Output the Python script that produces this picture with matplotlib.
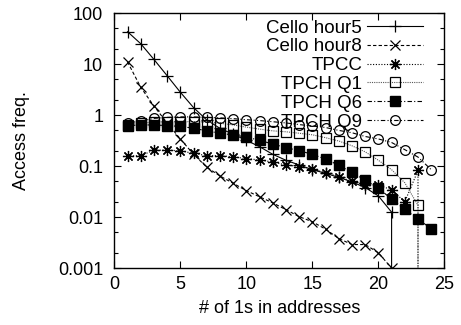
import matplotlib
matplotlib.use("Agg")
import matplotlib.pyplot as plt
from matplotlib.ticker import LogLocator, FuncFormatter, NullFormatter

plt.rcParams['font.family'] = ['Liberation Sans', 'DejaVu Sans']

# access frequency per number of 1s in the address (x = 1, 2, ...)
cello5 = [43, 25, 12.3, 5.9, 2.8, 1.4, 0.8, 0.55, 0.42, 0.32, 0.24, 0.17, 0.13,
          0.105, 0.085, 0.072, 0.06, 0.049, 0.038, 0.026, 0.0125]
cello8 = [11, 3.5, 1.5, 0.7, 0.34, 0.17, 0.095, 0.064, 0.046, 0.033, 0.025, 0.019,
          0.014, 0.0102, 0.0081, 0.0058, 0.0038, 0.0029, 0.0029, 0.002, 0.001]
tpcc = [0.158, 0.16, 0.205, 0.205, 0.2, 0.177, 0.16, 0.16, 0.152, 0.14, 0.132, 0.12,
        0.105, 0.098, 0.087, 0.074, 0.062, 0.05, 0.043, 0.043, 0.034, 0.02, 0.082]
q1 = [0.64, 0.69, 0.73, 0.74, 0.74, 0.74, 0.73, 0.69, 0.64, 0.58, 0.53, 0.49, 0.47,
      0.44, 0.41, 0.36, 0.31, 0.25, 0.19, 0.13, 0.085, 0.047, 0.017]
q6 = [0.61, 0.64, 0.64, 0.62, 0.6, 0.55, 0.49, 0.44, 0.41, 0.37, 0.32, 0.27, 0.23,
      0.2, 0.17, 0.137, 0.104, 0.075, 0.053, 0.037, 0.0225, 0.0142, 0.0092, 0.0059]
q9 = [0.70, 0.76, 0.86, 0.90, 0.92, 0.92, 0.90, 0.88, 0.85, 0.81, 0.78, 0.74, 0.70,
      0.65, 0.61, 0.57, 0.50, 0.45, 0.38, 0.34, 0.29, 0.21, 0.15, 0.085]

# series that fall to zero right after their last point (drawn as a drop to the axis)
drops = {"Cello hour5": True, "Cello hour8": False, "TPCC": True,
         "TPCH Q1": True, "TPCH Q6": False, "TPCH Q9": False}

series = [
    ("Cello hour5", cello5, dict(ls='-', marker='+', ms=9, mew=0.9)),
    ("Cello hour8", cello8, dict(ls=(0, (3, 2)), marker='x', ms=7, mew=0.9)),
    ("TPCC", tpcc, dict(ls=(0, (1, 1.5)), marker=(8, 2, 0), ms=8, mew=0.9)),
    ("TPCH Q1", q1, dict(ls=(0, (1, 1)), marker='s', ms=7, mfc='none', mew=0.9, color='0.35')),
    ("TPCH Q6", q6, dict(ls=(0, (4, 2, 1, 2)), marker='s', ms=7)),
    ("TPCH Q9", q9, dict(ls=(0, (4, 2, 1, 2, 1, 2)), marker='o', ms=7, mfc='none', mew=0.9)),
]

fig = plt.figure(figsize=(4.61, 3.25), dpi=100)
ax = fig.add_axes([0.248, 0.175, 0.716, 0.785])

for name, vals, style in series:
    xs = list(range(1, len(vals) + 1))
    ys = list(vals)
    if drops[name]:
        xs.append(xs[-1])
        ys.append(1e-6)
    st = dict(color='black', lw=0.8, mec='black')
    st.update(style)
    if 'color' in style:
        st['mec'] = 'black'
    ax.plot(xs, ys, label=name, markevery=slice(0, len(vals)), **st)

ax.set_yscale('log')
ax.set_xlim(0, 25)
ax.set_ylim(0.001, 100)
ax.set_xticks([0, 5, 10, 15, 20, 25])
ax.yaxis.set_major_locator(LogLocator(base=10, numticks=10))
ax.yaxis.set_minor_locator(LogLocator(base=10, subs=(2, 5), numticks=10))
ax.yaxis.set_major_formatter(FuncFormatter(lambda v, p: '%g' % v))
ax.yaxis.set_minor_formatter(NullFormatter())
ax.tick_params(which='both', direction='in', top=True, right=True, labelsize=13)
ax.tick_params(axis='y', which='major', pad=8)
ax.tick_params(axis='x', which='major', pad=6)
ax.tick_params(which='major', length=5, width=0.8)
ax.tick_params(which='minor', length=3, width=0.8)
for s in ax.spines.values():
    s.set_linewidth(1.0)

ax.set_xlabel("# of 1s in addresses", fontsize=13, labelpad=5)
ax.set_ylabel("Access freq.", fontsize=13, labelpad=20)

ax.legend(loc='upper right', bbox_to_anchor=(0.935, 0.975), frameon=False,
          markerfirst=False, fontsize=13.5, handlelength=3.0, labelspacing=0.09,
          handletextpad=0.25, borderaxespad=0.0, borderpad=0.0)

fig.savefig("out.png", dpi=100)
